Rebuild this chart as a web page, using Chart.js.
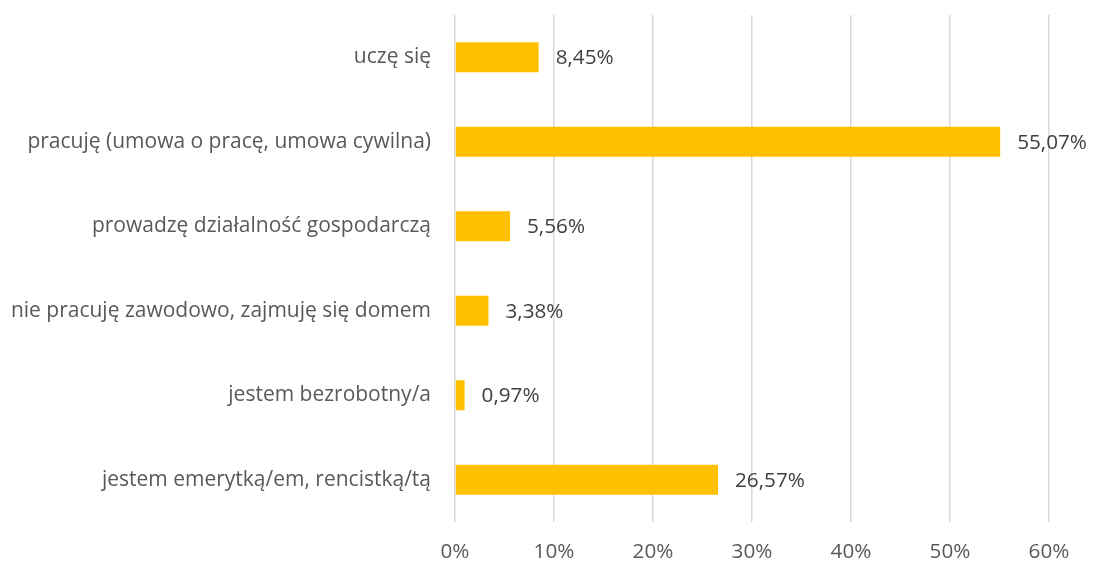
<!DOCTYPE html>
<html>
<head>
<meta charset="utf-8">
<script src="https://cdn.jsdelivr.net/npm/chart.js@4"></script>
<style>
    html, body { margin: 0; padding: 0; background: #fff; }
    #wrap { width: 1093px; height: 563px; }
</style>
</head>
<body>
<div id="wrap"><canvas id="statusChart"></canvas></div>
<script>
const categories = [
    'uczę się',
    'pracuję (umowa o pracę, umowa cywilna)',
    'prowadzę działalność gospodarczą',
    'nie pracuję zawodowo, zajmuję się domem',
    'jestem bezrobotny/a',
    'jestem emerytką/em, rencistką/tą'
];
const shares = [8.45, 55.07, 5.56, 3.38, 0.97, 26.57];
const xTicks = [0, 10, 20, 30, 40, 50, 60];

const fontFamily = '"Open Sans", Lato, sans-serif';

const fmt = v => v.toFixed(2).replace('.', ',') + '%';

const valueLabels = {
    id: 'valueLabels',
    afterDatasetsDraw(chart) {
        const ctx = chart.ctx;
        const meta = chart.getDatasetMeta(0);
        ctx.save();
        ctx.font = '20.7px ' + fontFamily;
        ctx.fillStyle = '#404040';
        ctx.textAlign = 'left';
        ctx.textBaseline = 'middle';
        meta.data.forEach((bar, i) => {
            ctx.fillText(fmt(shares[i]), bar.x + 17, bar.y + 1);
        });
        ctx.restore();
    }
};

new Chart(document.getElementById('statusChart').getContext('2d'), {
    type: 'bar',
    data: {
        labels: categories,
        datasets: [{
            data: shares,
            backgroundColor: '#FFC000',
            borderWidth: 0,
            categoryPercentage: 1,
            barPercentage: 0.355
        }]
    },
    options: {
        indexAxis: 'y',
        responsive: true,
        maintainAspectRatio: false,
        animation: false,
        layout: { padding: { top: 15, right: 44, bottom: 0, left: 0 } },
        plugins: {
            legend: { display: false },
            tooltip: { enabled: false }
        },
        scales: {
            x: {
                min: 0,
                max: 60,
                afterBuildTicks: axis => { axis.ticks = xTicks.map(v => ({ value: v })); },
                afterFit: axis => { axis.height = 41; },
                grid: { color: '#d9d9d9', lineWidth: 1.5, drawTicks: false },
                border: { display: false },
                ticks: {
                    padding: 18,
                    color: '#595959',
                    font: { family: fontFamily, size: 20.7 },
                    callback: v => v + '%'
                }
            },
            y: {
                afterFit: axis => {
                    axis.width = 455;
                    axis.paddingTop = 0;
                    axis.paddingBottom = 0;
                },
                grid: { display: false },
                border: { display: false },
                ticks: {
                    padding: 16,
                    color: '#595959',
                    font: { family: fontFamily, size: 21 }
                }
            }
        }
    },
    plugins: [valueLabels]
});
</script>
</body>
</html>
